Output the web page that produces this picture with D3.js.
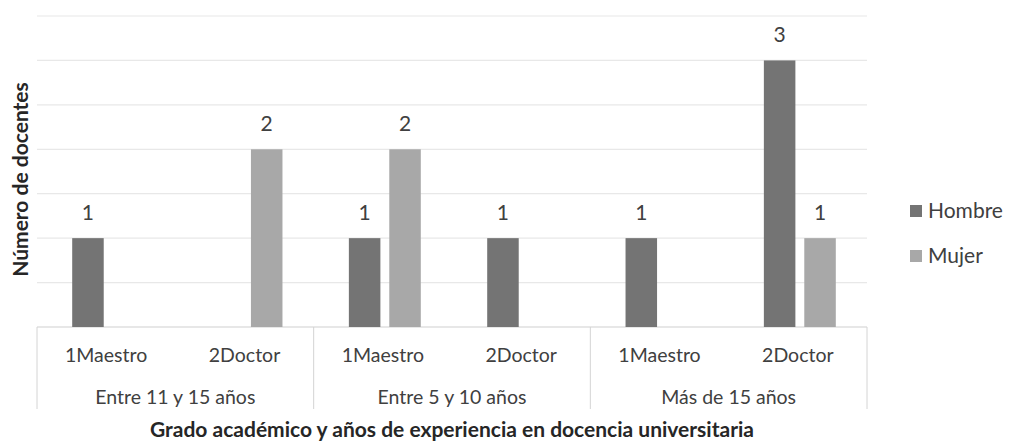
<!DOCTYPE html>
<html>
<head>
<meta charset="utf-8">
<script src="https://cdn.jsdelivr.net/npm/d3@7"></script>
<style>
  body { margin: 0; background: #fff; }
  text { font-family: Lato, "Open Sans", sans-serif; fill: #404040; }
</style>
</head>
<body>
<div id="chart"></div>
<script>
// data
var grupos = ["Entre 11 y 15 años", "Entre 5 y 10 años", "Más de 15 años"];
var grados = ["1Maestro", "2Doctor"];
var series = ["Hombre", "Mujer"];
var hombre = [1, null, 1, 1, 1, 3];
var mujer = [null, 2, 2, null, null, 1];
var yTicks = [0, 0.5, 1, 1.5, 2, 2.5, 3, 3.5];

var colors = {Hombre: "#747474", Mujer: "#a8a8a8"};

var W = 1009, H = 442;
var margin = {top: 16, left: 37, right: 142, bottom: 115};
var width = W - margin.left - margin.right,
    height = H - margin.top - margin.bottom;

var svg = d3.select("#chart").append("svg")
    .attr("width", W)
    .attr("height", H);

var g = svg.append("g")
    .attr("transform", "translate(" + margin.left + "," + margin.top + ")");

// flat list of categories: group x grado
var cats = [];
grupos.forEach(function (gr) {
    grados.forEach(function (gd) {
        cats.push({grupo: gr, grado: gd, key: gr + "|" + gd});
    });
});
cats.forEach(function (c, i) {
    c.Hombre = hombre[i];
    c.Mujer = mujer[i];
});

var x0 = d3.scaleBand()
    .domain(cats.map(function (c) { return c.key; }))
    .range([0, width])
    .paddingInner(0.48)
    .paddingOuter(0.24);

var xg = d3.scaleBand()
    .domain(grupos)
    .range([0, width]);

var x1 = d3.scaleBand()
    .domain(series)
    .range([0, x0.bandwidth()])
    .paddingInner(0.22);

var y = d3.scaleLinear()
    .domain([0, 3.5])
    .range([height, 0]);

// gridlines
g.append("g")
    .selectAll("line")
    .data(yTicks)
    .enter().append("line")
    .attr("x1", 0)
    .attr("x2", width)
    .attr("y1", function (d) { return y(d); })
    .attr("y2", function (d) { return y(d); })
    .attr("stroke", function (d) { return d === 0 ? "#d0d0d0" : "#e8e8e8"; })
    .attr("stroke-width", 1.2);

// bars
var catG = g.append("g")
    .selectAll("g")
    .data(cats)
    .enter().append("g")
    .attr("transform", function (d) { return "translate(" + (x0(d.key) + 2) + ",0)"; });

var bars = catG.selectAll("g")
    .data(function (d) {
        return series.map(function (s) { return {key: s, value: d[s]}; })
            .filter(function (e) { return e.value != null; });
    })
    .enter().append("g");

bars.append("rect")
    .attr("x", function (d) { return x1(d.key); })
    .attr("y", function (d) { return y(d.value); })
    .attr("width", x1.bandwidth())
    .attr("height", function (d) { return height - y(d.value); })
    .attr("fill", function (d) { return colors[d.key]; });

bars.append("text")
    .attr("x", function (d) { return x1(d.key) + x1.bandwidth() / 2; })
    .attr("y", function (d) { return y(d.value) - 18; })
    .attr("text-anchor", "middle")
    .style("font-size", "21px")
    .text(function (d) { return d.value; });

// category axis (two levels)
g.append("g")
    .selectAll("text")
    .data(cats)
    .enter().append("text")
    .attr("x", function (d) { return x0(d.key) + x0.bandwidth() / 2; })
    .attr("y", height + 35)
    .attr("text-anchor", "middle")
    .style("font-size", "19.5px")
    .text(function (d) { return d.grado; });

g.append("g")
    .selectAll("text")
    .data(grupos)
    .enter().append("text")
    .attr("x", function (d) { return xg(d) + xg.bandwidth() / 2; })
    .attr("y", height + 77)
    .attr("text-anchor", "middle")
    .style("font-size", "19.5px")
    .text(function (d) { return d; });

// separators between groups
var seps = grupos.map(function (d) { return xg(d); }).concat([width]);
g.append("g")
    .selectAll("line")
    .data(seps)
    .enter().append("line")
    .attr("x1", function (d) { return d; })
    .attr("x2", function (d) { return d; })
    .attr("y1", height)
    .attr("y2", height + 82)
    .attr("stroke", "#d4d4d4")
    .attr("stroke-width", 1);

// axis titles
svg.append("text")
    .attr("x", margin.left + width / 2)
    .attr("y", 437)
    .attr("text-anchor", "middle")
    .style("font-size", "21px")
    .style("font-weight", "bold")
    .style("fill", "#262626")
    .text("Grado académico y años de experiencia en docencia universitaria");

svg.append("text")
    .attr("transform", "translate(28," + (margin.top + height / 2 + 8) + ") rotate(-90)")
    .attr("text-anchor", "middle")
    .style("font-size", "21px")
    .style("font-weight", "bold")
    .style("fill", "#262626")
    .text("Número de docentes");

// legend
var legend = svg.append("g")
    .attr("transform", "translate(910,205)")
    .selectAll("g")
    .data(series)
    .enter().append("g")
    .attr("transform", function (d, i) { return "translate(0," + i * 45 + ")"; });

legend.append("rect")
    .attr("width", 12)
    .attr("height", 12)
    .attr("fill", function (d) { return colors[d]; });

legend.append("text")
    .attr("x", 18)
    .attr("y", 6)
    .attr("dy", ".35em")
    .style("font-size", "21px")
    .text(function (d) { return d; });
</script>
</body>
</html>
